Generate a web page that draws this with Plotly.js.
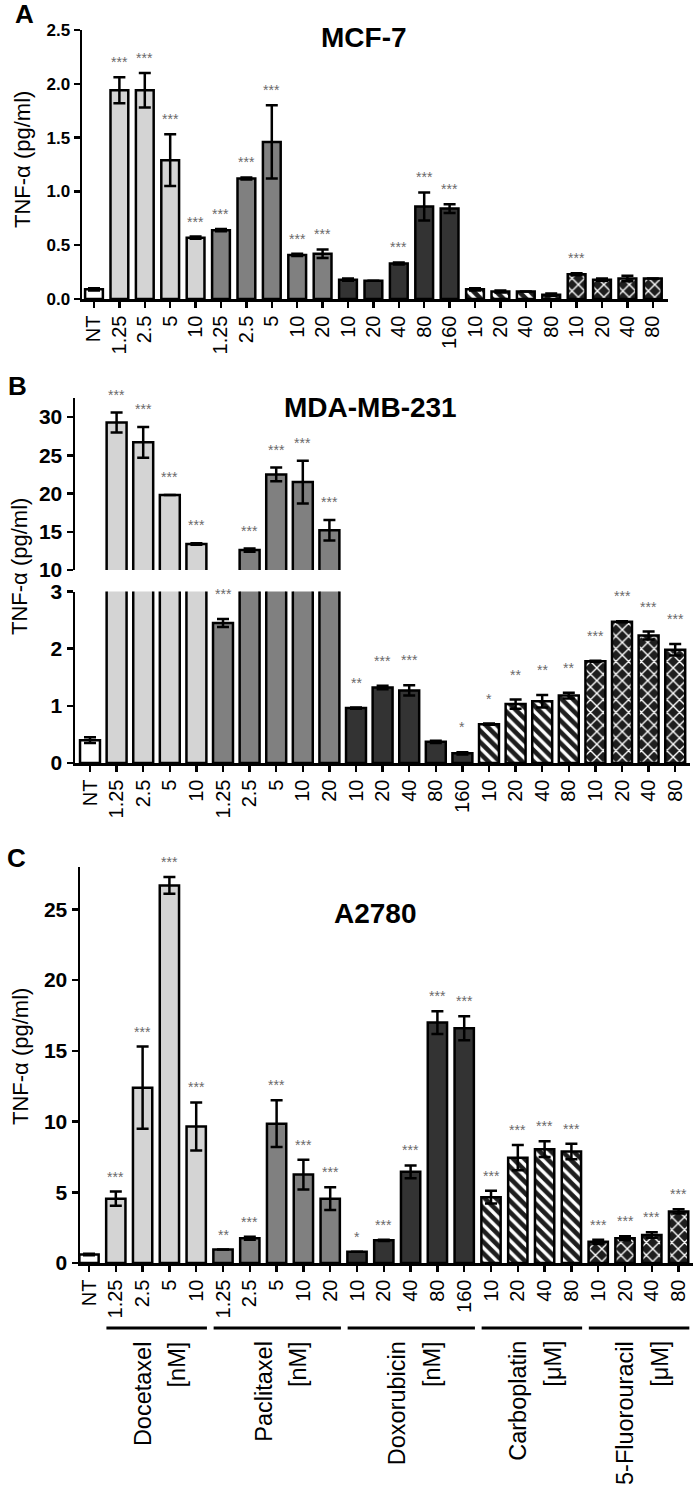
<!DOCTYPE html>
<html>
<head>
<meta charset="utf-8">
<script src="https://cdn.plot.ly/plotly-3.0.1.min.js"></script>
<style>html,body{margin:0;padding:0;background:#fff}</style>
</head>
<body>
<div id="chart" style="width:696px;height:1490px"></div>
<script>
// ---------------- data ----------------
const tickLabels = ['NT','1.25','2.5','5','10','1.25','2.5','5','10','20','10','20','40','80','160','10','20','40','80','10','20','40','80'];
const groupNames = ['NT','Docetaxel','Paclitaxel','Doxorubicin','Carboplatin','5-Fluorouracil'];
const groupCounts = [1,4,5,5,4,4];
const groupUnits = ['', '[nM]', '[nM]', '[nM]', '[μM]', '[μM]'];

const mcfMean = [0.09,1.94,1.94,1.29,0.57,0.64,1.12,1.46,0.41,0.42,0.18,0.17,0.33,0.86,0.84,0.09,0.07,0.07,0.04,0.23,0.18,0.19,0.19];
const mcfErr  = [0.01,0.12,0.16,0.24,0.01,0.01,0.01,0.34,0.01,0.04,0.01,0,0.01,0.13,0.04,0.01,0.01,0,0.01,0.01,0.01,0.025,0];
const mcfSig  = ['','***','***','***','***','***','***','***','***','***','','','***','***','***','','','','','***','','',''];

const mdaMean = [0.40,29.3,26.7,19.8,13.4,2.45,12.6,22.5,21.5,15.2,0.96,1.32,1.27,0.37,0.17,0.68,1.03,1.08,1.18,1.78,2.47,2.23,1.98];
const mdaErr  = [0.05,1.3,2.0,0,0.1,0.07,0.2,0.9,2.8,1.35,0.01,0.03,0.09,0.02,0.02,0.01,0.08,0.11,0.05,0.01,0.01,0.07,0.1];
const mdaSig  = ['','***','***','***','***','***','***','***','***','***','**','***','***','','*','*','**','**','**','***','***','***','***'];

const a27Mean = [0.6,4.55,12.4,26.7,9.65,0.95,1.75,9.85,6.25,4.55,0.8,1.6,6.45,17.0,16.6,4.65,7.45,8.05,7.88,1.5,1.75,1.98,3.65];
const a27Err  = [0.05,0.5,2.9,0.6,1.7,0,0.1,1.65,1.05,0.8,0,0.05,0.45,0.8,0.85,0.45,0.9,0.55,0.55,0.15,0.15,0.2,0.15];
const a27Sig  = ['','***','***','***','***','**','***','***','***','***','*','***','***','***','***','***','***','***','***','***','***','***','***'];

const cellLines = ['MCF-7','MDA-MB-231','A2780'];
const panelLetters = ['A','B','C'];
const yTitle = 'TNF-α (pg/ml)';

// ---------------- styling ----------------
const W = 696, H = 1490;
const px = x => x / W;
const py = y => 1 - y / H;
const FONT = 'Liberation Sans, Arial, Helvetica, sans-serif';
const groupFill = ['#ffffff','#d4d4d4','#808080','#333333','#1e1e1e','#1e1e1e'];
const groupShape = ['','','','','\\','x'];
const groupPatSize = [8,8,8,8,8,9];
const groupSolid = [0.4,0.4,0.4,0.4,0.42,0.28];

// group index per bar
const groupOf = [];
groupCounts.forEach((n,g)=>{ for(let k=0;k<n;k++) groupOf.push(g); });
const idx = tickLabels.map((_,i)=>i);
const fills = groupOf.map(g=>groupFill[g]);
const shapes = groupOf.map(g=>groupShape[g]);
const psizes = groupOf.map(g=>groupPatSize[g]);
const psolid = groupOf.map(g=>groupSolid[g]);

function barTrace(mean, err, xa, ya, width){
  return {
    type:'bar', x: idx, y: mean, xaxis: xa, yaxis: ya, width: width,
    marker:{
      color: fills,
      line:{color:'#000', width:2.5},
      pattern:{shape: shapes, fgcolor:'#ffffff', size: psizes, solidity: psolid, fillmode:'overlay', fgopacity:1}
    },
    error_y:{type:'data', array: err.map(e=> e>0 ? e : null), visible:true, color:'#000', thickness:2.5, width:6},
    hoverinfo:'skip', showlegend:false
  };
}

const data = [
  barTrace(mcfMean, mcfErr, 'x', 'y', 0.70),
  barTrace(mdaMean, mdaErr, 'x2', 'y2', 0.75),
  barTrace(mdaMean, mdaErr, 'x2', 'y3', 0.75),
  barTrace(a27Mean, a27Err, 'x3', 'y4', 0.72)
];

function xAxis(domain, range, anchor){
  return {
    domain: domain, range: range, anchor: anchor,
    tickvals: idx, ticktext: tickLabels, tickangle: -90,
    ticks:'outside', ticklen:6, tickwidth:2.5, tickcolor:'#000',
    showline:true, linewidth:2.5, linecolor:'#000',
    showgrid:false, zeroline:false, fixedrange:true,
    tickfont:{family:FONT, size:20, color:'#000'}
  };
}
function yAxis(domain, range, dtick, anchor, fmt, tick0, fsize){
  const a = {
    domain: domain, range: range, anchor: anchor, dtick: dtick, tick0: tick0 || 0,
    ticks:'outside', ticklen:6, tickwidth:2.5, tickcolor:'#000',
    showline:true, linewidth:2.5, linecolor:'#000',
    showgrid:false, zeroline:false, fixedrange:true,
    tickfont:{family:FONT, size:fsize, color:'#000', weight:'bold'}
  };
  if (fmt) a.tickformat = fmt;
  return a;
}

const annotations = [];
const shapesL = [];

function stars(sig, mean, err, xa, yaFn, shiftFn){
  sig.forEach((s,i)=>{
    if(!s) return;
    const ya = yaFn(i);
    annotations.push({
      xref: xa, yref: ya, x: i, y: mean[i] + err[i], text: s,
      showarrow:false, yanchor:'bottom', yshift: shiftFn(ya),
      font:{family:FONT, size:14, color:'#6a6a6a'}
    });
  });
}
stars(mcfSig, mcfMean, mcfErr, 'x', ()=> 'y', ()=> 5);
stars(mdaSig, mdaMean, mdaErr, 'x2', i=> mdaMean[i] > 3 ? 'y2' : 'y3', ya=> ya==='y2' ? 8 : 15);
stars(a27Sig, a27Mean, a27Err, 'x3', ()=> 'y4', ()=> 5);

// panel titles & letters
const titlePos = [[364,38],[370,407],[375,913]];
const letterPos = [[24,14],[17,386],[16,858]];
cellLines.forEach((t,k)=>{
  annotations.push({xref:'paper', yref:'paper', x:px(titlePos[k][0]), y:py(titlePos[k][1]), text:t,
    showarrow:false, xanchor:'center', yanchor:'middle', font:{family:FONT, size:28, weight:'bold', color:'#000'}});
  annotations.push({xref:'paper', yref:'paper', x:px(letterPos[k][0]), y:py(letterPos[k][1]), text:panelLetters[k],
    showarrow:false, xanchor:'center', yanchor:'middle', font:{family:FONT, size:26, weight:'bold', color:'#000'}});
});
// y titles
[[23,160],[20,567],[20,1057]].forEach(p=>{
  annotations.push({xref:'paper', yref:'paper', x:px(p[0]), y:py(p[1]), text:yTitle, textangle:-90,
    showarrow:false, xanchor:'center', yanchor:'middle', font:{family:FONT, size:22, color:'#000'}});
});

// group bars and labels under panel C
let start = 0;
groupCounts.forEach((n,g)=>{
  const s = start, e = start + n - 1;
  start += n;
  if (g === 0) return;
  const c = (s + e) / 2;
  shapesL.push({type:'line', xref:'x3', yref:'paper', x0: s - 0.35, x1: e + 0.4, y0: py(1328), y1: py(1328),
    line:{color:'#000', width:3}});
  annotations.push({xref:'x3', yref:'paper', x: c - 0.5, y: py(1339), text: groupNames[g],
    textangle:-90, showarrow:false, xanchor:'center', yanchor:'top',
    font:{family:FONT, size:23.5, color:'#000'}});
  annotations.push({xref:'x3', yref:'paper', x: c + 0.8, y: py(1339), text: groupUnits[g],
    textangle:-90, showarrow:false, xanchor:'center', yanchor:'top',
    font:{family:FONT, size:23.5, color:'#000'}});
});

const layout = {
  width: W, height: H, margin:{l:0,r:0,t:0,b:0},
  paper_bgcolor:'#fff', plot_bgcolor:'rgba(0,0,0,0)',
  barmode:'overlay', showlegend:false,
  font:{family:FONT, color:'#000'},
  xaxis: xAxis([px(82), px(668)], [-0.472, 22.598], 'y'),
  yaxis: yAxis([py(299), py(30)], [0, 2.5], 0.5, 'x', '.1f', 0, 17),
  xaxis2: xAxis([px(75), px(690)], [-0.564, 22.556], 'y3'),
  yaxis2: yAxis([py(570), py(398)], [10, 32.5], 5, 'x2', null, 10, 21),
  yaxis3: yAxis([py(763), py(591.5)], [0, 3], 1, 'x2', null, 0, 21),
  xaxis3: xAxis([px(80), px(693)], [-0.336, 22.537], 'y4'),
  yaxis4: yAxis([py(1263), py(867)], [0, 28], 5, 'x3', null, 0, 21),
  annotations: annotations,
  shapes: shapesL
};

Plotly.newPlot('chart', data, layout, {displayModeBar:false, staticPlot:true});
</script>
</body>
</html>
